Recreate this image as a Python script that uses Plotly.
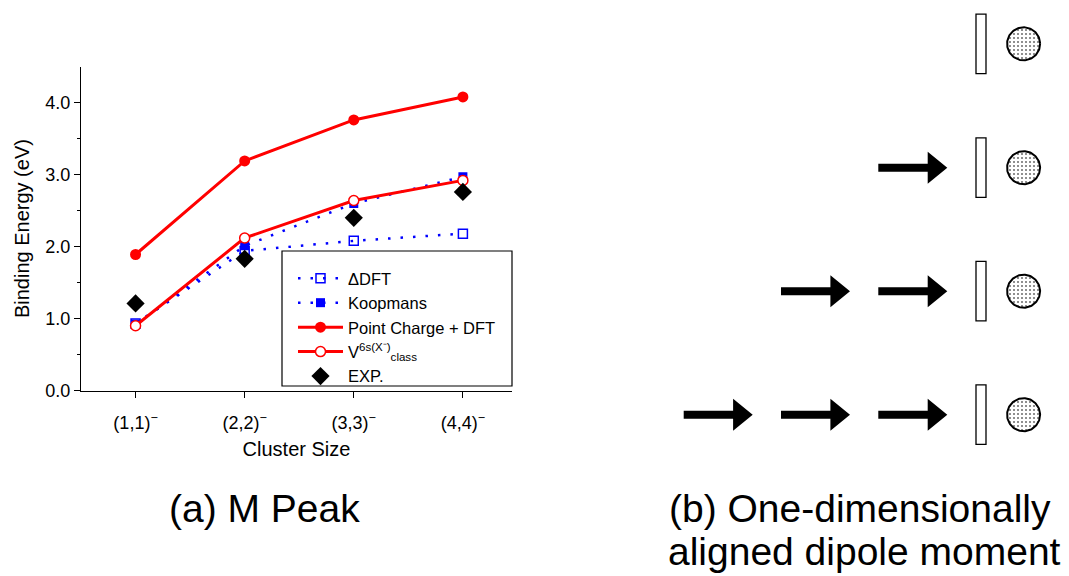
import numpy as np
import plotly.graph_objects as go

W, H = 1069, 576
FONT = "Liberation Sans, Arial, Helvetica, sans-serif"

# ---- panel (a): binding energies of the M peak ----
clusters = ["(1,1)<sup>−</sup>", "(2,2)<sup>−</sup>", "(3,3)<sup>−</sup>", "(4,4)<sup>−</sup>"]
cluster_pos = [1, 2, 3, 4]
delta_dft = [0.93, 1.94, 2.08, 2.18]
koopmans = [0.92, 2.01, 2.60, 2.97]
point_charge_dft = [1.89, 3.19, 3.76, 4.08]
v_class = [0.90, 2.12, 2.64, 2.92]
experiment = [1.21, 1.83, 2.40, 2.76]

y_tickvals = [0, 1, 2, 3, 4]
y_ticktext = ["0.0", "1.0", "2.0", "3.0", "4.0"]
y_minor = [0.5, 1.5, 2.5, 3.5]

# ---- panel (b): number of aligned dipoles in each row ----
arrows_per_row = [0, 1, 2, 3]

# plot area of panel (a), in pixels
PL, PR, PT, PB = 81, 512, 66.7, 390.5


def fx(px):
    return px / W


def fy(py):
    return 1 - py / H


RED = "#ff0000"
BLUE = "#0000ff"
dotted = "2.5px,10px"

fig = go.Figure()

fig.add_trace(go.Scatter(
    x=cluster_pos, y=delta_dft, name="ΔDFT", mode="lines+markers",
    line=dict(color=BLUE, width=2.5, dash=dotted),
    marker=dict(symbol="square-open", size=9, color=BLUE, line=dict(width=1.5, color=BLUE)),
))
fig.add_trace(go.Scatter(
    x=cluster_pos, y=koopmans, name="Koopmans", mode="lines+markers",
    line=dict(color=BLUE, width=2.5, dash=dotted),
    marker=dict(symbol="square", size=9, color=BLUE),
))
fig.add_trace(go.Scatter(
    x=cluster_pos, y=point_charge_dft, name="Point Charge + DFT", mode="lines+markers",
    line=dict(color=RED, width=3),
    marker=dict(symbol="circle", size=11, color=RED),
))
fig.add_trace(go.Scatter(
    x=cluster_pos, y=v_class, name="V<sup>6s(X⁻)</sup><sub>class</sub>", mode="lines+markers",
    line=dict(color=RED, width=3),
    marker=dict(symbol="circle", size=10, color="white", line=dict(width=1.5, color=RED)),
))
fig.add_trace(go.Scatter(
    x=cluster_pos, y=experiment, name="EXP.", mode="markers",
    marker=dict(symbol="diamond", size=14, color="black"),
))

# ---- panel (b): dipole diagram drawn on a pixel-scaled overlay axis ----
row_cy = [43.8, 167.7, 291.2, 414.7]
circle_cx, circle_r = 1023.6, 16.5
bar_x0, bar_x1, bar_h = 976, 986, 59.5
tip0, arrow_step = 947.3, 97.3
head_len, head_half, shaft_half, arrow_len = 19.6, 16, 4, 69

# frame around the legend
shapes = [dict(type="rect", xref="paper", yref="paper",
               x0=fx(282), x1=fx(512), y0=fy(386), y1=fy(251),
               line=dict(color="black", width=1.2), fillcolor="white", layer="below")]

theta = np.linspace(0, 2 * np.pi, 120)
for cy, n in zip(row_cy, arrows_per_row):
    fig.add_trace(go.Scatter(
        x=circle_cx + circle_r * np.cos(theta), y=cy + circle_r * np.sin(theta),
        xaxis="x2", yaxis="y2", mode="lines", fill="toself",
        line=dict(color="black", width=2), fillcolor="white",
        fillpattern=dict(shape=".", fgcolor="#6a6a6a", bgcolor="white", size=4, solidity=0.2),
        showlegend=False, hoverinfo="skip",
    ))
    shapes.append(dict(type="rect", xref="x2", yref="y2",
                       x0=bar_x0, x1=bar_x1, y0=cy - bar_h / 2, y1=cy + bar_h / 2,
                       line=dict(color="black", width=1.3), fillcolor="white"))
    for k in range(n):
        tip = tip0 - k * arrow_step
        base = tip - head_len
        start = tip - arrow_len
        path = (f"M{start},{cy - shaft_half} L{base},{cy - shaft_half} L{base},{cy - head_half} "
                f"L{tip},{cy} L{base},{cy + head_half} L{base},{cy + shaft_half} "
                f"L{start},{cy + shaft_half} Z")
        shapes.append(dict(type="path", xref="x2", yref="y2", path=path,
                           fillcolor="black", line=dict(width=0)))

axis_font = dict(family=FONT, size=18, color="black")
title_font = dict(family=FONT, size=20, color="black")

fig.update_layout(
    template="none",
    width=W, height=H,
    margin=dict(l=0, r=0, t=0, b=0, pad=0, autoexpand=False),
    paper_bgcolor="white", plot_bgcolor="rgba(0,0,0,0)",
    font=dict(family=FONT, color="black"),
    showlegend=True,
    legend=dict(
        x=fx(293), y=fy(261), xanchor="left", yanchor="top",
        bgcolor="rgba(0,0,0,0)", borderwidth=0,
        font=dict(family=FONT, size=16.5, color="black"),
        itemwidth=45, tracegroupgap=0,
    ),
    xaxis=dict(
        domain=[fx(PL), fx(PR)], range=[0.5, 4.45], anchor="y", automargin=False,
        tickmode="array", tickvals=cluster_pos, ticktext=clusters,
        ticks="outside", ticklen=6, tickwidth=1.2, tickcolor="black",
        ticklabelstandoff=10,
        showline=True, linecolor="black", linewidth=1.2,
        showgrid=False, zeroline=False, tickfont=axis_font,
        title=dict(text="Cluster Size", font=title_font, standoff=9),
    ),
    yaxis=dict(
        domain=[fy(PB), fy(PT)], range=[0, 4.5], anchor="x", automargin=False,
        tickmode="array", tickvals=y_tickvals, ticktext=y_ticktext,
        ticks="outside", ticklen=6, tickwidth=1.2, tickcolor="black",
        minor=dict(tickmode="array", tickvals=y_minor, ticks="outside", ticklen=3,
                   tickwidth=1.2, tickcolor="black"),
        showline=True, linecolor="black", linewidth=1.2,
        showgrid=False, zeroline=False, tickfont=axis_font,
        title=dict(text="Binding Energy (eV)", font=title_font, standoff=10),
    ),
    xaxis2=dict(domain=[0, 1], range=[0, W], anchor="y2", visible=False,
                fixedrange=True, automargin=False),
    yaxis2=dict(domain=[0, 1], range=[H, 0], anchor="x2", visible=False,
                fixedrange=True, automargin=False),
    shapes=shapes,
    annotations=[
        dict(text="(a) M Peak", x=fx(264), y=fy(508), xref="paper", yref="paper",
             showarrow=False, xanchor="center", yanchor="middle",
             font=dict(family=FONT, size=39, color="black")),
        dict(text="(b) One-dimensionally", x=fx(860), y=fy(508), xref="paper", yref="paper",
             showarrow=False, xanchor="center", yanchor="middle",
             font=dict(family=FONT, size=39, color="black")),
        dict(text="aligned dipole moment", x=fx(864), y=fy(551), xref="paper", yref="paper",
             showarrow=False, xanchor="center", yanchor="middle",
             font=dict(family=FONT, size=39, color="black")),
    ],
)

fig.write_html("out.html")
